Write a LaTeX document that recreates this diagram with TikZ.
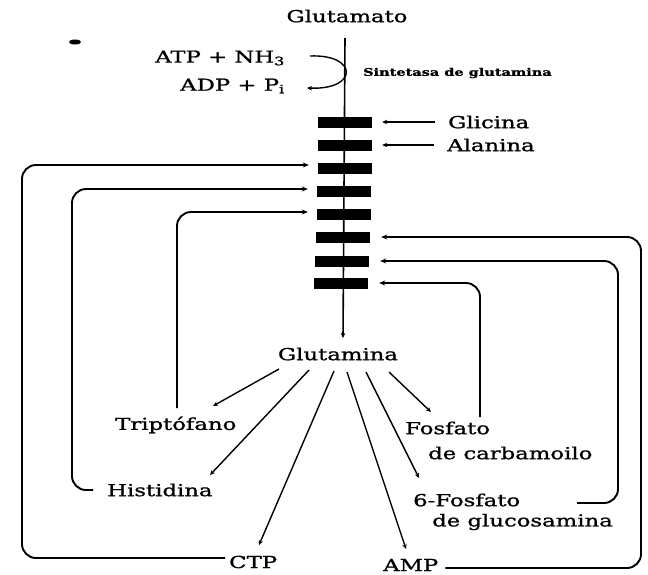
\documentclass[tikz,border=0pt]{standalone}
\usepackage{fontspec}
\setmainfont{DejaVu Serif}[FakeStretch=1.38,FakeBold=1.2]
\usetikzlibrary{arrows.meta,calc}
\begin{document}
\begin{tikzpicture}[x=1pt,y=-1pt,
  lbl/.style={inner sep=0pt, font=\fontsize{16.5}{18}\selectfont},
  barbox/.style={fill=black, minimum width=54pt, minimum height=11pt, inner sep=0pt},
  fb/.style={line width=1.9pt, rounded corners=14pt, -{Stealth[length=6pt,width=5pt]}},
  arr/.style={line width=1.4pt, -{Stealth[length=5pt,width=4.5pt]}}]
\fill[white] (0,0) rectangle (648,574);
\useasboundingbox (0,0) rectangle (648,574);
% speck
\fill (75,42) ellipse [x radius=6pt, y radius=2.5pt];
% top labels
\node[lbl] (glto) at (347,16) {Glutamato};
\node[lbl, anchor=west] (atp) at (155,58) {ATP + NH\textsubscript{3}};
\node[lbl, anchor=west] (adp) at (180,86) {ADP + P\textsubscript{i}};
\node[inner sep=0pt, anchor=west, font=\fontsize{10.5}{12}\selectfont\bfseries] (syn) at (363,73) {Sintetasa de glutamina};
% main line
\coordinate (vtop) at (345,38);
\node[lbl] (glna) at (338,354) {Glutamina};
\draw[arr, line width=1.6pt] (vtop) -- ($(glna.center)+(5,-16)$);
% curved arrow
\draw[arr] ($(vtop)+(-35,18)$) .. controls +(48,-2) and +(52,2) .. ($(vtop)+(-38,50)$);
% bars
\node[barbox] (b1) at (345,122) {};
\node[barbox] (b2) at (345,145) {};
\node[barbox] (b3) at (345,168) {};
\node[barbox] (b4) at (344,191) {};
\node[barbox] (b5) at (344,214) {};
\node[barbox] (b6) at (343,237) {};
\node[barbox] (b7) at (342,261) {};
\node[barbox] (b8) at (341,283) {};
% Glicina, Alanina
\node[lbl, anchor=west] (gli) at (448,122) {Glicina};
\node[lbl, anchor=west] (ala) at (447,145) {Alanina};
\draw[arr, shorten <=13pt, shorten >=10pt] (gli.west) -- (b1.east);
\draw[arr, shorten <=13pt, shorten >=10pt] (ala.west) -- (b2.east);
% products
\node[lbl, anchor=west] (trip) at (115,425) {Triptófano};
\node[lbl, anchor=west] (hist) at (107,490) {Histidina};
\node[lbl, anchor=west] (ctp) at (229,562) {CTP};
\node[lbl, anchor=west] (amp) at (383,565) {AMP};
\node[lbl, anchor=west] (fos1) at (405,428) {Fosfato};
\node[lbl, anchor=west] (fos2) at (428,453) {de carbamoilo};
\node[lbl, anchor=west] (gq1) at (413,500) {6-Fosfato};
\node[lbl, anchor=west] (gq2) at (432,522) {de glucosamina};
% arrows from glutamina
\draw[arr] ($(glna.center)+(-59,15)$) -- ($(trip.west)+(98,-19)$);
\draw[arr] ($(glna.center)+(-29,16)$) -- ($(hist.west)+(103,-15)$);
\draw[arr] ($(glna.center)+(-4,17)$) -- ($(ctp.west)+(30,-17)$);
\draw[arr] ($(glna.center)+(9,18)$) -- ($(amp.west)+(23,-16)$);
\draw[arr] ($(glna.center)+(28,18)$) -- ($(gq1.west)+(6,-22)$);
\draw[arr] ($(glna.center)+(51,18)$) -- ($(fos1.west)+(26,-16)$);
% feedback loops
\coordinate (oL) at (22,350);
\coordinate (mL) at (72,350);
\coordinate (mR) at (618,400);
\coordinate (oR) at (641,400);
\draw[fb, shorten <=4pt, shorten >=9pt] ($(ctp.west)+(0,-4)$) -| (oL) |- ($(b3.west)+(0,-3)$);
\draw[fb, shorten <=14pt, shorten >=9pt] (hist.west) -| (mL) |- ($(b4.west)+(0,-2)$);
\draw[fb, shorten >=9pt] ($(trip.west)+(62,-17)$) |- ($(b5.west)+(0,-2)$);
\draw[fb, shorten >=11pt] ($(fos1.west)+(75,-11)$) |- (b8.east);
\draw[fb, shorten >=11pt] ($(gq1.west)+(164,3)$) -| (mR) |- (b7.east);
\draw[fb, shorten <=7pt, shorten >=11pt] ($(amp.east)+(0,3)$) -| (oR) |- (b6.east);
\end{tikzpicture}
\end{document}
